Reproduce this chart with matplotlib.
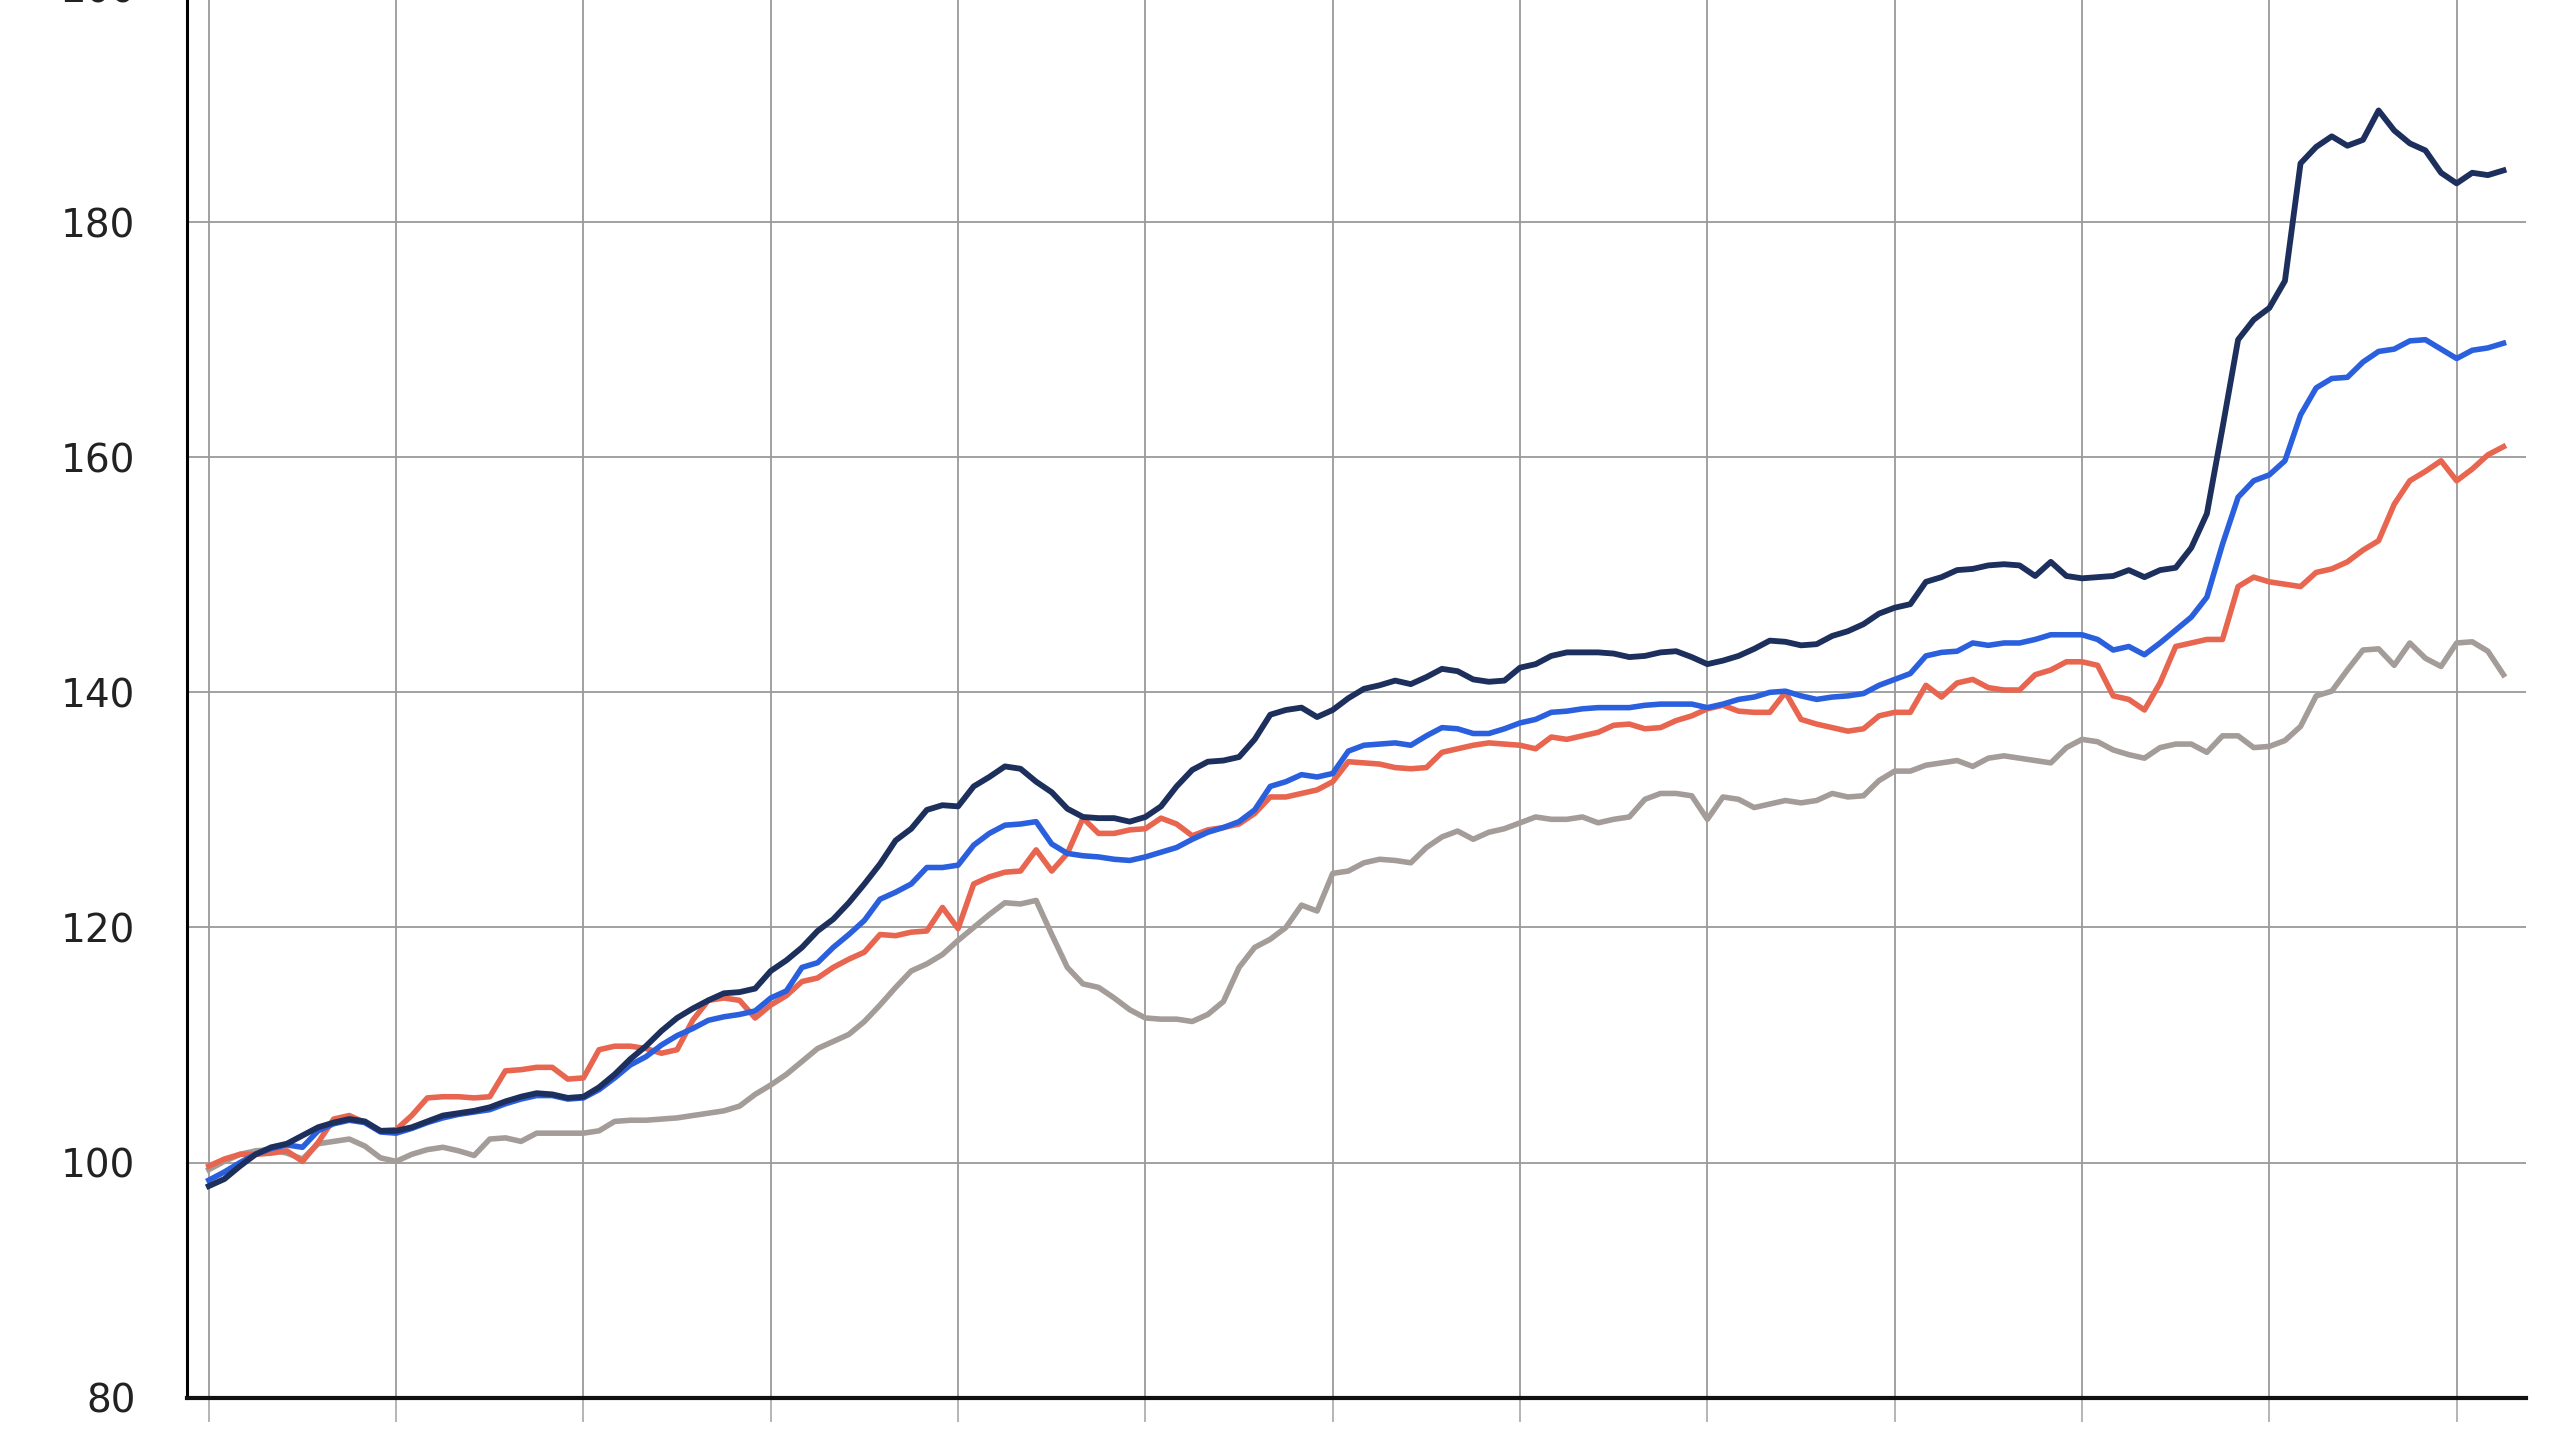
import numpy as np
import matplotlib.pyplot as plt

# monthly index values (13 grid columns = 12 periods + 3 months)
navy = [98.0, 98.6, 99.7, 100.7, 101.3, 101.6, 102.3, 103.0, 103.4, 103.7, 103.5, 102.7,
        102.7, 103.0, 103.5, 104.0, 104.2, 104.4, 104.7, 105.2, 105.6, 105.9, 105.8, 105.5,
        105.6, 106.4, 107.5, 108.8, 109.9, 111.2, 112.3, 113.1, 113.8, 114.4, 114.5, 114.8,
        116.3, 117.2, 118.3, 119.7, 120.7, 122.1, 123.7, 125.4, 127.4, 128.4, 130.0, 130.4,
        130.3, 132.0, 132.8, 133.7, 133.5, 132.4, 131.5, 130.1, 129.4, 129.3, 129.3, 129.0,
        129.4, 130.3, 132.0, 133.4, 134.1, 134.2, 134.5, 136.0, 138.1, 138.5, 138.7, 137.9,
        138.5, 139.5, 140.3, 140.6, 141.0, 140.7, 141.3, 142.0, 141.8, 141.1, 140.9, 141.0,
        142.1, 142.4, 143.1, 143.4, 143.4, 143.4, 143.3, 143.0, 143.1, 143.4, 143.5, 143.0,
        142.4, 142.7, 143.1, 143.7, 144.4, 144.3, 144.0, 144.1, 144.8, 145.2, 145.8, 146.7,
        147.2, 147.5, 149.4, 149.8, 150.4, 150.5, 150.8, 150.9, 150.8, 149.9, 151.1, 149.9,
        149.7, 149.8, 149.9, 150.4, 149.8, 150.4, 150.6, 152.3, 155.2, 162.5, 170.0, 171.7,
        172.7, 175.0, 185.0, 186.4, 187.3, 186.5, 187.0, 189.5, 187.8, 186.7, 186.1, 184.2,
        183.3, 184.2, 184.0, 184.4]

blue = [98.5, 99.2, 100.0, 100.7, 101.2, 101.5, 101.3, 102.7, 103.3, 103.6, 103.4, 102.6,
        102.5, 102.9, 103.4, 103.8, 104.1, 104.3, 104.5, 105.0, 105.4, 105.7, 105.7, 105.4,
        105.5, 106.2, 107.2, 108.3, 109.0, 110.0, 110.8, 111.4, 112.1, 112.4, 112.6, 112.9,
        114.0, 114.6, 116.6, 117.0, 118.3, 119.4, 120.6, 122.4, 123.0, 123.7, 125.1, 125.1,
        125.3, 127.0, 128.0, 128.7, 128.8, 129.0, 127.1, 126.3, 126.1, 126.0, 125.8, 125.7,
        126.0, 126.4, 126.8, 127.5, 128.1, 128.5, 129.0, 130.0, 132.0, 132.4, 133.0, 132.8,
        133.1, 135.0, 135.5, 135.6, 135.7, 135.5, 136.3, 137.0, 136.9, 136.5, 136.5, 136.9,
        137.4, 137.7, 138.3, 138.4, 138.6, 138.7, 138.7, 138.7, 138.9, 139.0, 139.0, 139.0,
        138.7, 139.0, 139.4, 139.6, 140.0, 140.1, 139.7, 139.4, 139.6, 139.7, 139.9, 140.6,
        141.1, 141.6, 143.1, 143.4, 143.5, 144.2, 144.0, 144.2, 144.2, 144.5, 144.9, 144.9,
        144.9, 144.5, 143.6, 143.9, 143.2, 144.2, 145.3, 146.4, 148.1, 152.6, 156.6, 158.0,
        158.5, 159.7, 163.6, 165.9, 166.7, 166.8, 168.1, 169.0, 169.2, 169.9, 170.0, 169.2,
        168.4, 169.1, 169.3, 169.7]

red = [99.7, 100.3, 100.7, 100.7, 100.8, 101.0, 100.1, 101.7, 103.7, 104.0, 103.4, 102.7,
       102.8, 104.0, 105.5, 105.6, 105.6, 105.5, 105.6, 107.8, 107.9, 108.1, 108.1, 107.1,
       107.2, 109.6, 109.9, 109.9, 109.7, 109.3, 109.6, 112.1, 113.8, 114.0, 113.8, 112.3,
       113.4, 114.2, 115.4, 115.7, 116.6, 117.3, 117.9, 119.4, 119.3, 119.6, 119.7, 121.7,
       119.9, 123.7, 124.3, 124.7, 124.8, 126.6, 124.8, 126.3, 129.3, 128.0, 128.0, 128.3,
       128.4, 129.3, 128.8, 127.8, 128.3, 128.5, 128.8, 129.7, 131.1, 131.1, 131.4, 131.7,
       132.4, 134.1, 134.0, 133.9, 133.6, 133.5, 133.6, 134.9, 135.2, 135.5, 135.7, 135.6,
       135.5, 135.2, 136.2, 136.0, 136.3, 136.6, 137.2, 137.3, 136.9, 137.0, 137.6, 138.0,
       138.6, 138.9, 138.4, 138.3, 138.3, 140.0, 137.7, 137.3, 137.0, 136.7, 136.9, 138.0,
       138.3, 138.3, 140.6, 139.6, 140.8, 141.1, 140.4, 140.2, 140.2, 141.5, 141.9, 142.6,
       142.6, 142.3, 139.7, 139.4, 138.5, 140.8, 143.9, 144.2, 144.5, 144.5, 149.0, 149.8,
       149.4, 149.2, 149.0, 150.2, 150.5, 151.1, 152.1, 152.9, 156.0, 158.0, 158.8, 159.7,
       158.0, 159.0, 160.2, 160.9]

gray = [99.4, 100.1, 100.7, 101.0, 101.1, 100.8, 100.3, 101.6, 101.8, 102.0, 101.4, 100.4,
        100.1, 100.7, 101.1, 101.3, 101.0, 100.6, 102.0, 102.1, 101.8, 102.5, 102.5, 102.5,
        102.5, 102.7, 103.5, 103.6, 103.6, 103.7, 103.8, 104.0, 104.2, 104.4, 104.8, 105.8,
        106.6, 107.5, 108.6, 109.7, 110.3, 110.9, 112.0, 113.4, 114.9, 116.3, 116.9, 117.7,
        118.9, 120.0, 121.1, 122.1, 122.0, 122.3, 119.4, 116.6, 115.2, 114.9, 114.0, 113.0,
        112.3, 112.2, 112.2, 112.0, 112.6, 113.7, 116.6, 118.3, 119.0, 120.0, 121.9, 121.4,
        124.6, 124.8, 125.5, 125.8, 125.7, 125.5, 126.8, 127.7, 128.2, 127.5, 128.1, 128.4,
        128.9, 129.4, 129.2, 129.2, 129.4, 128.9, 129.2, 129.4, 130.9, 131.4, 131.4, 131.2,
        129.2, 131.1, 130.9, 130.2, 130.5, 130.8, 130.6, 130.8, 131.4, 131.1, 131.2, 132.5,
        133.3, 133.3, 133.8, 134.0, 134.2, 133.7, 134.4, 134.6, 134.4, 134.2, 134.0, 135.3,
        136.0, 135.8, 135.1, 134.7, 134.4, 135.3, 135.6, 135.6, 134.9, 136.3, 136.3, 135.3,
        135.4, 135.9, 137.1, 139.7, 140.1, 141.9, 143.6, 143.7, 142.3, 144.2, 142.9, 142.2,
        144.2, 144.3, 143.5, 141.5]

y_ticks = [80, 100, 120, 140, 160, 180, 200]
n_periods = 12

fig = plt.figure(figsize=(25.6, 14.4), dpi=100)
# axes top runs a little past the figure edge, like the cropped original
ax = fig.add_axes([0.073, 0.0294, 0.9137, 0.9796])

t = np.arange(len(navy)) / 12
ax.plot(t, gray, color='#a39c98', lw=4.0, zorder=3, solid_joinstyle='round')
ax.plot(t, red, color='#e8654f', lw=4.0, zorder=4, solid_joinstyle='round')
ax.plot(t, blue, color='#2a5fde', lw=4.0, zorder=5, solid_joinstyle='round')
ax.plot(t, navy, color='#1d2f5c', lw=4.2, zorder=6, solid_joinstyle='round')

ax.set_xlim(-0.117, 12.37)
ax.set_ylim(80, 200)
ax.set_yticks(y_ticks)
ax.set_xticks(np.arange(n_periods + 1))
ax.set_xticklabels([])

ax.grid(True, color='#9a9a9a', lw=1.3)
ax.set_axisbelow(True)
ax.tick_params(axis='y', length=0, pad=37, labelsize=28, labelcolor='#222222')
ax.tick_params(axis='x', length=17, width=1.3, color='#b0b0b0', direction='out')

for s in ['top', 'right']:
    ax.spines[s].set_visible(False)
ax.spines['left'].set_linewidth(2.2)
ax.spines['bottom'].set_linewidth(3)
ax.spines['left'].set_color('black')
ax.spines['bottom'].set_color('#111111')

fig.savefig('out.png', dpi=100)
